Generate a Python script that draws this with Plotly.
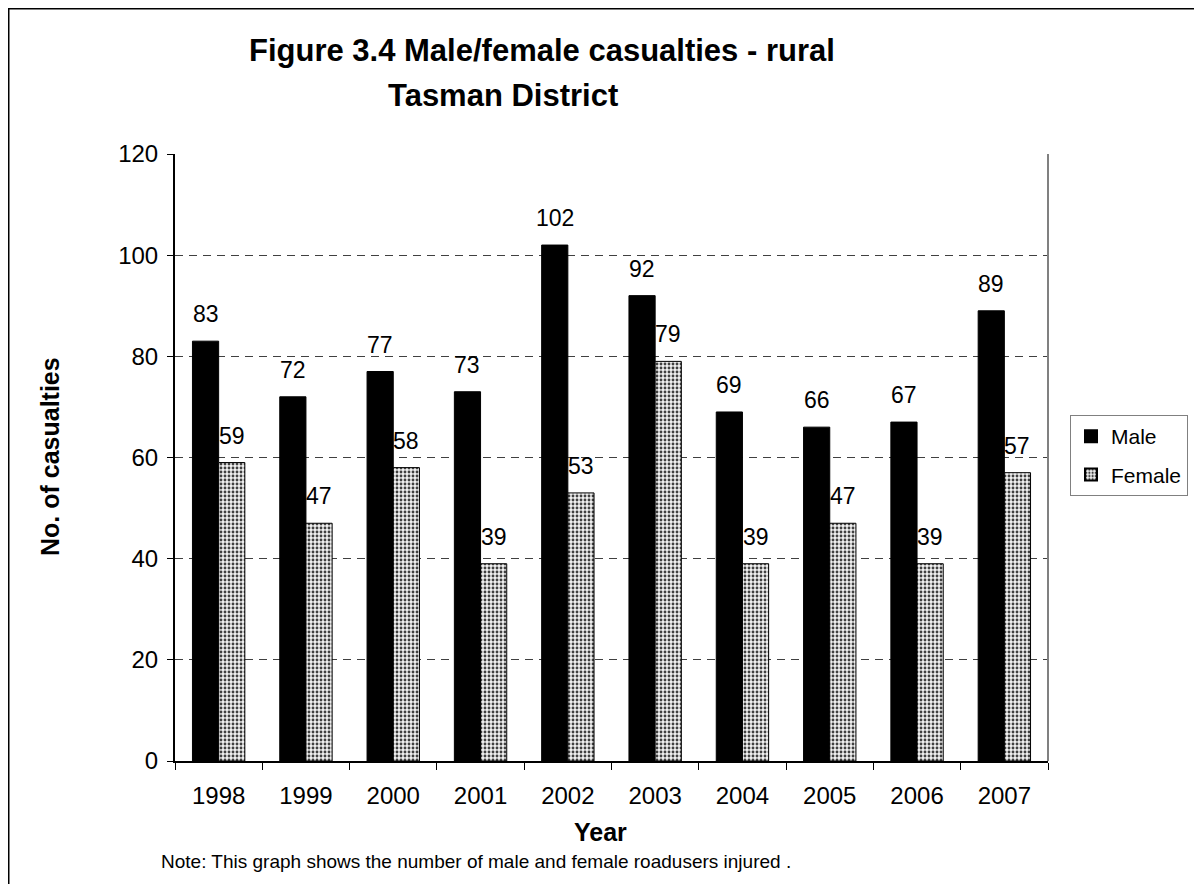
import plotly.graph_objects as go

years = ["1998", "1999", "2000", "2001", "2002", "2003", "2004", "2005", "2006", "2007"]
male = [83, 72, 77, 73, 102, 92, 69, 66, 67, 89]
female = [59, 47, 58, 39, 53, 79, 39, 47, 39, 57]
y_ticks = [0, 20, 40, 60, 80, 100, 120]

OFF = 8  # page body margin
W, H = 1202 - 2 * OFF, 892 - 2 * OFF
# plot area in page pixels
L, R, T, B = 175, 1048, 154, 761
FONT = "Liberation Sans, Arial, sans-serif"

def px_x(p):
    return (p - L) / (R - L)

def px_y(p):
    return (B - p) / (B - T)

fig = go.Figure()
fig.add_trace(go.Bar(
    x=years, y=male, name="Male", legendgroup="m",
    marker=dict(color="black", line=dict(color="black", width=1)),
))
fig.add_trace(go.Bar(
    x=years, y=female, name="Female", legendgroup="f",
    marker=dict(color="white", line=dict(color="black", width=1),
                pattern=dict(shape=".", fgcolor="#404040", bgcolor="#f0f0f0",
                             size=4, solidity=0.4, fillmode="replace")),
))

annotations = []
for i, v in enumerate(male):
    annotations.append(dict(x=i - 0.15, y=v, xref="x", yref="y", text=str(v),
                            showarrow=False, yshift=27, yanchor="middle",
                            font=dict(size=23, color="black", family=FONT)))
for i, v in enumerate(female):
    annotations.append(dict(x=i + 0.15, y=v, xref="x", yref="y", text=str(v),
                            showarrow=False, yshift=27, yanchor="middle",
                            font=dict(size=23, color="black", family=FONT)))

annotations += [
    dict(x=px_x(247), y=px_y(50), xref="paper", yref="paper",
         text="<b>Figure 3.4 Male/female casualties - rural</b>",
         showarrow=False, xanchor="left", yanchor="middle",
         font=dict(size=31, color="black", family=FONT)),
    dict(x=px_x(386), y=px_y(95), xref="paper", yref="paper",
         text="<b>Tasman District</b>",
         showarrow=False, xanchor="left", yanchor="middle",
         font=dict(size=31, color="black", family=FONT)),
    dict(x=px_x(50), y=px_y(457), xref="paper", yref="paper",
         text="<b>No. of casualties</b>", textangle=-90,
         showarrow=False, xanchor="center", yanchor="middle",
         font=dict(size=25, color="black", family=FONT)),
    dict(x=px_x(572), y=px_y(832), xref="paper", yref="paper",
         text="<b>Year</b>", showarrow=False, xanchor="left", yanchor="middle",
         font=dict(size=25, color="black", family=FONT)),
    dict(x=px_x(159), y=px_y(861), xref="paper", yref="paper",
         text="Note: This graph shows the number of male and female roadusers injured .",
         showarrow=False, xanchor="left", yanchor="middle",
         font=dict(size=19, color="black", family=FONT)),
]

shapes = [
    # right plot border
    dict(type="line", xref="paper", yref="paper", x0=1, x1=1, y0=0, y1=1,
         line=dict(color="#808080", width=2)),
    # outer chart border
    dict(type="rect", xref="paper", yref="paper",
         x0=px_x(8), x1=px_x(1230), y0=px_y(930), y1=px_y(8),
         line=dict(color="black", width=3), layer="below"),
]

fig.update_layout(
    width=W, height=H,
    margin=dict(l=L - OFF, r=W - (R - OFF), t=T - OFF, b=H - (B - OFF),
                pad=0, autoexpand=False),
    paper_bgcolor="white", plot_bgcolor="white",
    barmode="group", bargap=0.4, bargroupgap=0,
    font=dict(family=FONT, size=24, color="black"),
    showlegend=True,
    legend=dict(x=px_x(1070), y=px_y(415), xanchor="left", yanchor="top",
                bordercolor="#808080", borderwidth=1, bgcolor="white",
                font=dict(size=21, family=FONT, color="black"),
                itemsizing="constant", traceorder="grouped", tracegroupgap=8,
                itemwidth=30),
    annotations=annotations,
    shapes=shapes,
)
fig.update_xaxes(
    type="category", tickson="boundaries", ticks="outside", ticklen=7,
    tickcolor="black", showline=True, linecolor="black", linewidth=2,
    showgrid=False, tickfont=dict(size=24, family=FONT, color="black"),
    ticklabelstandoff=12,
)
fig.update_yaxes(
    range=[0, 120], tickvals=y_ticks, ticks="outside", ticklen=6,
    tickcolor="black", showline=True, linecolor="black", linewidth=2,
    showgrid=True, gridcolor="#404040", griddash="8px,6px", gridwidth=1,
    zeroline=False, tickfont=dict(size=24, family=FONT, color="black"),
    ticklabelstandoff=4,
)

fig.write_html("out.html")
